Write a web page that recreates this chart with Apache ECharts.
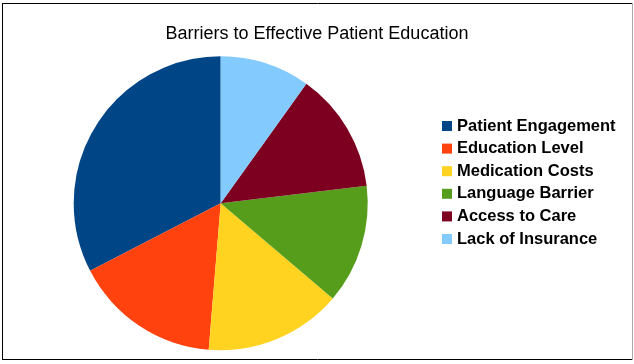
<!DOCTYPE html>
<html>
<head>
<meta charset="utf-8">
<script src="https://cdn.jsdelivr.net/npm/echarts@6/dist/echarts.min.js"></script>
<style>
html,body{margin:0;padding:0;background:#fff;}
#chart{width:634px;height:364px;}
</style>
</head>
<body>
<div id="chart"></div>
<script>
const categories = ["Patient Engagement", "Education Level", "Medication Costs", "Language Barrier", "Access to Care", "Lack of Insurance"];
const values = [32.6, 16.1, 15.1, 13.1, 13.2, 9.9];
const colors = ["#004586", "#ff420e", "#ffd320", "#579d1c", "#7e0021", "#83caff"];
const titleText = "Barriers to Effective Patient Education";

const chart = echarts.init(document.getElementById('chart'), null, {renderer: 'canvas'});
chart.setOption({
  animation: false,
  backgroundColor: '#ffffff',
  color: colors,
  title: {
    text: titleText,
    left: 'center',
    top: 25,
    padding: 0,
    textStyle: {fontFamily: 'Liberation Sans', fontSize: 18, fontWeight: 'normal', color: '#000', lineHeight: 18}
  },
  legend: {
    orient: 'vertical',
    left: 442,
    top: 117.5,
    padding: 0,
    icon: 'rect',
    itemWidth: 10,
    itemHeight: 10,
    itemGap: 5.6,
    selectedMode: false,
    data: categories,
    textStyle: {fontFamily: 'Liberation Sans', fontSize: 16.5, fontWeight: 'bold', color: '#000', lineHeight: 16.5, padding: [0, 0, 0, 0]},
    formatter: n => n
  },
  graphic: [
    {type: 'line', shape: {x1: 2.5, y1: 3, x2: 2.5, y2: 360}, style: {stroke: '#000', lineWidth: 1}},
    {type: 'line', shape: {x1: 2, y1: 3.5, x2: 633, y2: 3.5}, style: {stroke: '#000', lineWidth: 1}},
    {type: 'line', shape: {x1: 2, y1: 359.5, x2: 633, y2: 359.5}, style: {stroke: '#000', lineWidth: 1}},
    {type: 'line', shape: {x1: 632.5, y1: 3, x2: 632.5, y2: 360}, style: {stroke: '#aaa', lineWidth: 1}}
  ],
  series: [{
    type: 'pie',
    center: [220.7, 203.3],
    radius: 147,
    startAngle: 90,
    clockwise: false,
    label: {show: false},
    labelLine: {show: false},
    emphasis: {disabled: true},
    itemStyle: {borderWidth: 0},
    data: categories.map((c, i) => ({name: c, value: values[i]}))
  }]
});
</script>
</body>
</html>
